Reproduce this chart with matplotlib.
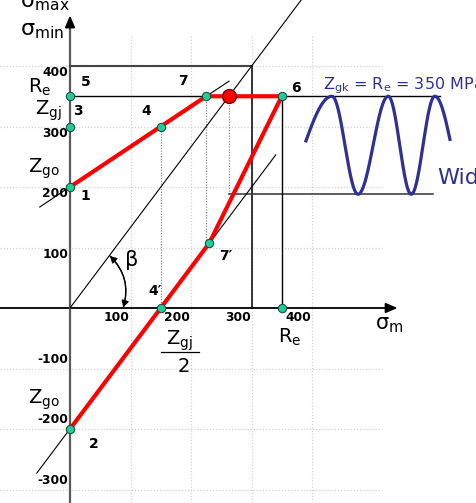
import numpy as np
import matplotlib
matplotlib.use("Agg")
import matplotlib.pyplot as plt
from matplotlib.patches import FancyArrowPatch

plt.rcParams['font.family'] = ['DejaVu Sans']
plt.rcParams['mathtext.default'] = 'regular'

# --- characteristic points of the Smith diagram (MPa) ---
Z_GO = 200
Z_GJ = 300
R_E = 350

# red limit polygon: 1 -> 4 -> 7 -> (circle) -> 6 -> 7' -> 4' -> 2
limit_x = [0, 150, 225, 262, 350, 230, 150, 0]
limit_y = [200, 300, 350, 350, 350, 107, 0, -200]

# green marker points
pts_x = [0, 0, 0, 0, 150, 225, 350, 230, 150, 350]
pts_y = [350, 300, 200, -200, 300, 350, 350, 107, 0, 0]

# big red point on the yield line
circle_x, circle_y = 262, 350

# helper lines
diag_x = [0, 385]
diag_y = [0, 513]
upper_ext_x = [-50, 263]
upper_ext_y = [167, 375]
lower_ext_x = [-55, 340]
lower_ext_y = [-273, 253]

# tick labels
y_ticks = [400, 300, 200, 100, -100, -200, -300]
x_ticks = [100, 200, 300, 400]

# cyclic load sketch: extreme points of the wave
wave_knots_x = [390, 433, 476, 526, 564, 603, 628]
wave_phase = [0.09, np.pi / 2, 3 * np.pi / 2, 5 * np.pi / 2, 7 * np.pi / 2,
              9 * np.pi / 2, 5 * np.pi - 0.12]
wave_mean, wave_amp = 269, 81
wave_min = 188

# point numbers
num_labels = ['5', '3', '4', '7', '6', '1', '2', '4\u2032', '7\u2032']
num_x = [26, 13, 126, 187, 374, 26, 40, 140, 258]
num_y = [374, 326, 326, 375, 364, 185, -225, 28, 86]

fig = plt.figure(figsize=(4.77, 5.03), dpi=100)
ax = fig.add_axes([0, 0, 1, 1])
ax.set_xlim(-115.7, 672.7)
ax.set_ylim(-322.3, 509.1)
ax.axis('off')

grid_kw = dict(color='#d2d2d2', lw=0.9, ls=(0, (1, 1.5)), zorder=0)
for v in [100, 200, 300, 400]:
    ax.plot([v, v], [-322, 451], **grid_kw)
for v in y_ticks:
    ax.plot([-116, 516], [v, v], **grid_kw)

# axes with arrows
ax.plot([-116, 530], [0, 0], color='black', lw=1.3, zorder=2)
ax.annotate('', xy=(546, 0), xytext=(520, 0),
            arrowprops=dict(arrowstyle='-|>,head_length=0.7,head_width=0.3',
                            color='black', lw=1.3))
ax.plot([0, 0], [-322, 470], color='#5a5a5a', lw=1.6, zorder=2)
ax.annotate('', xy=(0, 488), xytext=(0, 465),
            arrowprops=dict(arrowstyle='-|>,head_length=0.7,head_width=0.3',
                            color='black', lw=1.3))

# frame lines
ax.plot([0, 300], [400, 400], color='#444444', lw=1.5, zorder=2)
ax.plot([300, 300], [0, 400], color='black', lw=1.1, zorder=2)
ax.plot([0, 612], [R_E, R_E], color='black', lw=1.0, zorder=2)
ax.plot([circle_x, 600], [wave_min, wave_min], color='#333333', lw=1.1, zorder=2)
ax.plot([R_E, R_E], [0, R_E], color='black', lw=1.0, zorder=2)

# projection lines
proj_kw = dict(color='#8a8a8a', lw=0.9, ls=(0, (1, 1.2)), zorder=1)
ax.plot([150, 150], [0, 300], **proj_kw)
ax.plot([225, 225], [107, 350], **proj_kw)
ax.plot([circle_x, circle_x], [wave_min, 350], **proj_kw)

# thin helper lines
thin_kw = dict(color='black', lw=0.8, zorder=2)
ax.plot(diag_x, diag_y, **thin_kw)
ax.plot(upper_ext_x, upper_ext_y, **thin_kw)
ax.plot(lower_ext_x, lower_ext_y, **thin_kw)

# limit polygon
ax.plot(limit_x, limit_y, color='#ff0000', lw=3.0, solid_joinstyle='miter',
        zorder=4)
ax.plot(pts_x, pts_y, 'o', ms=6, mfc='#22cc99', mec='#1d5040', mew=0.8,
        zorder=5)
ax.plot(circle_x, circle_y, 'o', ms=10, mfc='#ff0000', mec='#7a0000',
        mew=1.0, zorder=6)

# angle beta
arc = FancyArrowPatch((66, 86), (88, 1), connectionstyle='arc3,rad=-0.3',
                      arrowstyle='-|>,head_length=4,head_width=2.2',
                      color='black', lw=0.9, shrinkA=0, shrinkB=0, zorder=3)
arc2 = FancyArrowPatch((88, 1), (66, 86), connectionstyle='arc3,rad=0.3',
                       arrowstyle='-|>,head_length=4,head_width=2.2',
                       color='black', lw=0.9, shrinkA=0, shrinkB=0, zorder=3)
ax.add_patch(arc)
ax.add_patch(arc2)
ax.text(102, 79, '\u03b2', fontsize=15, ha='center', va='center')

# wave
wx = np.linspace(wave_knots_x[0], wave_knots_x[-1], 400)
wp = np.interp(wx, wave_knots_x, wave_phase)
ax.plot(wx, wave_mean + wave_amp * np.sin(wp), color='#2e3192', lw=2.3,
        zorder=3)

# tick labels
for v in y_ticks:
    yy = v - 11 if v > 0 else v + 15
    ax.text(-3, yy, str(v), fontsize=8.8, fontweight='bold', ha='right',
            va='center')
for v in x_ticks:
    ax.text(v - 23, -15, str(v), fontsize=8.8, fontweight='bold', ha='center',
            va='center')

for s, x, y in zip(num_labels, num_x, num_y):
    ax.text(x, y, s, fontsize=10, fontweight='bold', ha='center', va='center')

# symbols
ax.text(-83, 504, '\u03c3$_{max}$', fontsize=16, ha='left', va='center')
ax.text(-83, 458, '\u03c3$_{min}$', fontsize=16, ha='left', va='center')
ax.text(-70, 364, 'R$_e$', fontsize=14, ha='left', va='center')
ax.text(-58, 326, 'Z$_{gj}$', fontsize=14, ha='left', va='center')
ax.text(-70, 231, 'Z$_{go}$', fontsize=14, ha='left', va='center')
ax.text(-70, -152, 'Z$_{go}$', fontsize=14, ha='left', va='center')
ax.text(181, -61, 'Z$_{gj}$', fontsize=14, ha='center', va='baseline')
ax.plot([150, 213], [-73, -73], color='black', lw=0.9)
ax.text(188, -106, '2', fontsize=14, ha='center', va='baseline')
ax.text(344, -58, 'R$_e$', fontsize=14, ha='left', va='baseline')
ax.text(504, -36, '\u03c3$_m$', fontsize=15, ha='left', va='baseline')

ax.text(418, 362, 'Z$_{gk}$ = R$_e$ = 350 MPa', fontsize=11.5,
        color='#2e3192', ha='left', va='baseline')
ax.text(607, 205, 'Wid', fontsize=16, color='#2e3192', ha='left',
        va='baseline')

fig.savefig('out.png', dpi=100)
